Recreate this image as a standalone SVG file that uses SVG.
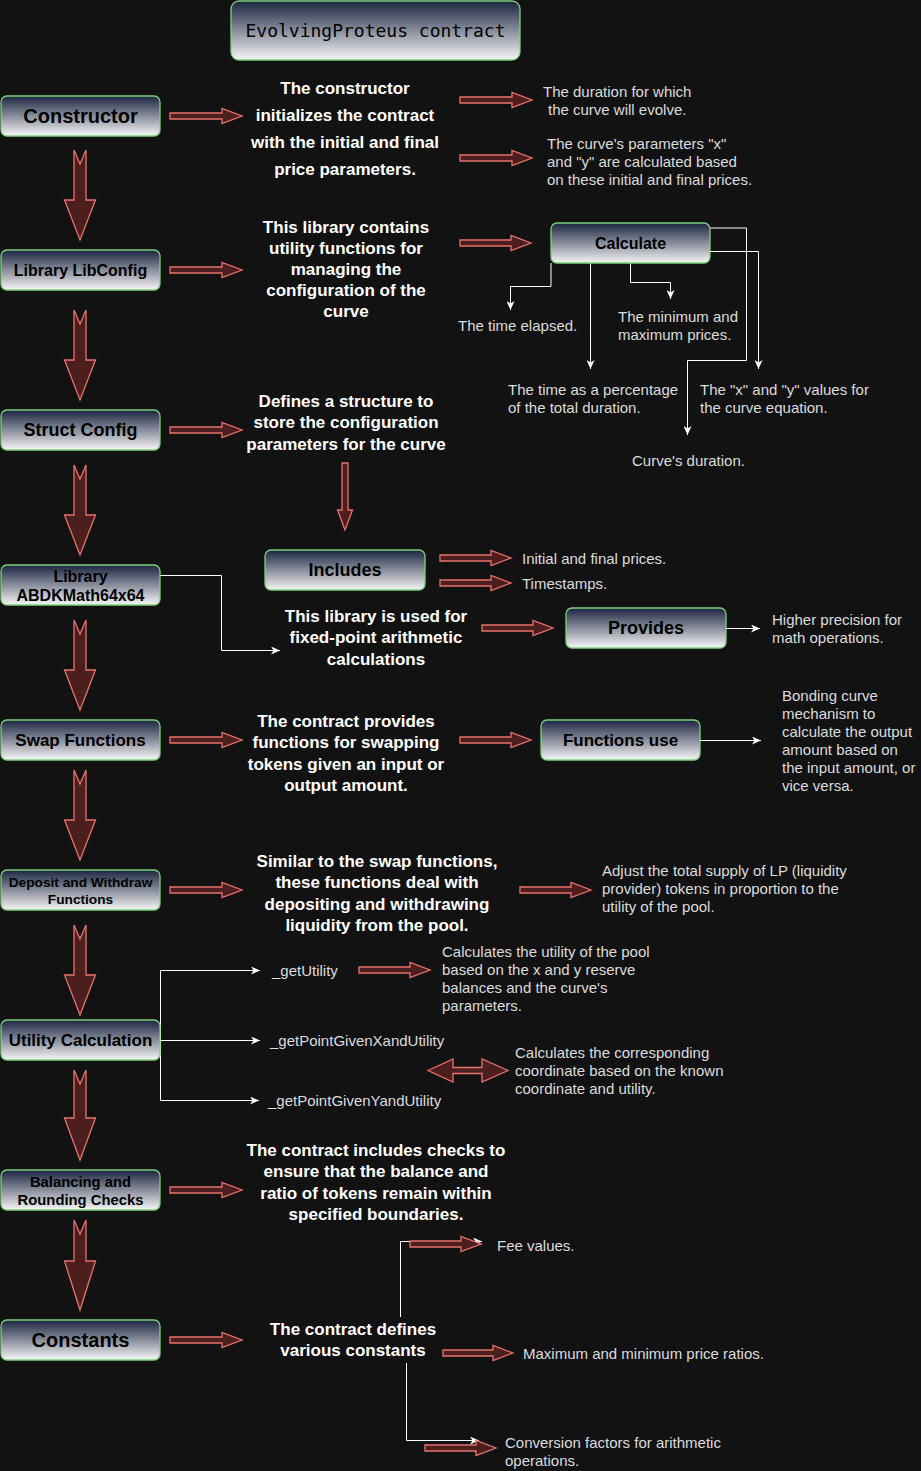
<svg xmlns="http://www.w3.org/2000/svg" width="921" height="1471" viewBox="0 0 921 1471">
<defs>
<linearGradient id="ng" x1="0" y1="0" x2="0" y2="1">
<stop offset="0" stop-color="#1b2540"/>
<stop offset="1" stop-color="#f6f6f6"/>
</linearGradient>
<marker id="ah" viewBox="0 0 10 8" refX="9" refY="4" markerWidth="10" markerHeight="8" markerUnits="userSpaceOnUse" orient="auto">
<path d="M0,0 L9,4 L0,8 L2.5,4 Z" fill="#ffffff"/>
</marker>
<style>
.bg{fill:#121212}
.nd{fill:url(#ng);stroke:#7dd07d;stroke-width:1.3}
.nt{font-family:"Liberation Sans",Arial,sans-serif;font-weight:bold;fill:#000;text-anchor:middle;dominant-baseline:central}
.mono{font-family:"DejaVu Sans Mono","Liberation Mono",monospace;font-size:18px;fill:#000;text-anchor:middle;dominant-baseline:central}
.bd{font-family:"Liberation Sans",Arial,sans-serif;font-weight:bold;font-size:17px;fill:#ffffff;text-anchor:middle;dominant-baseline:central}
.rg{font-family:"Liberation Sans",Arial,sans-serif;font-size:15px;fill:#dcdcdc;dominant-baseline:central}
.blk{fill:#4d1e1e;stroke:#e8736c;stroke-width:1.3;stroke-linejoin:miter}
.cn{fill:none;stroke:#ffffff;stroke-width:1}
</style>
</defs>
<rect class="bg" x="0" y="0" width="921" height="1471"/>

<g id="connectors">
<path class="cn" d="M551,263 V286.5 H510.5 V310" marker-end="url(#ah)"/>
<path class="cn" d="M590.5,263 V369" marker-end="url(#ah)"/>
<path class="cn" d="M630.5,263 V282.5 H670.5 V299" marker-end="url(#ah)"/>
<path class="cn" d="M710,251.5 H758.5 V369" marker-end="url(#ah)"/>
<path class="cn" d="M710,228 H746.5 V360.5 H687.5 V435" marker-end="url(#ah)"/>
<path class="cn" d="M160,575.5 H221.5 V650.5 H280" marker-end="url(#ah)"/>
<path class="cn" d="M726,628.5 H760" marker-end="url(#ah)"/>
<path class="cn" d="M700,740.5 H761" marker-end="url(#ah)"/>
<path class="cn" d="M160,1040.5 H260" marker-end="url(#ah)"/>
<path class="cn" d="M160.5,1040 V970.5 H260" marker-end="url(#ah)"/>
<path class="cn" d="M160.5,1040 V1100.5 H259" marker-end="url(#ah)"/>
<path class="cn" d="M400.5,1317 V1241.5 H482" marker-end="url(#ah)"/>
<path class="cn" d="M406.5,1363 V1440.5 H479" marker-end="url(#ah)"/>

<path class="blk" d="M74,150 L80,164 L86,150 V200 H95.5 L80,240 L64.5,200 H74 Z"/>
<path class="blk" d="M74,310 L80,324 L86,310 V360 H95.5 L80,400 L64.5,360 H74 Z"/>
<path class="blk" d="M74,465 L80,479 L86,465 V515 H95.5 L80,555 L64.5,515 H74 Z"/>
<path class="blk" d="M74,620 L80,634 L86,620 V670 H95.5 L80,710 L64.5,670 H74 Z"/>
<path class="blk" d="M74,770 L80,784 L86,770 V820 H95.5 L80,860 L64.5,820 H74 Z"/>
<path class="blk" d="M74,925 L80,939 L86,925 V975 H95.5 L80,1015 L64.5,975 H74 Z"/>
<path class="blk" d="M74,1070 L80,1084 L86,1070 V1118 H95.5 L80,1160 L64.5,1118 H74 Z"/>
<path class="blk" d="M74,1220 L80,1234 L86,1220 V1261 H95.5 L80,1310 L64.5,1261 H74 Z"/>

<path class="blk" d="M170,113 H222 V108.5 L242,116 L222,123.5 V119 H170 Z"/>
<path class="blk" d="M460,97 H512 V92.5 L532,100 L512,107.5 V103 H460 Z"/>
<path class="blk" d="M460,155 H512 V150.5 L532,158 L512,165.5 V161 H460 Z"/>
<path class="blk" d="M170,267 H222 V262.5 L242,270 L222,277.5 V273 H170 Z"/>
<path class="blk" d="M460,240 H511 V235.5 L531,243 L511,250.5 V246 H460 Z"/>
<path class="blk" d="M170,427 H222 V422.5 L242,430 L222,437.5 V433 H170 Z"/>
<path class="blk" d="M342,463 V510 H337.5 L345,530 L352.5,510 H348 V463 Z"/>
<path class="blk" d="M440,555 H491 V550.5 L511,558 L491,565.5 V561 H440 Z"/>
<path class="blk" d="M440,580 H491 V575.5 L511,583 L491,590.5 V586 H440 Z"/>
<path class="blk" d="M482,625 H533 V620.5 L553,628 L533,635.5 V631 H482 Z"/>
<path class="blk" d="M170,737 H222 V732.5 L242,740 L222,747.5 V743 H170 Z"/>
<path class="blk" d="M460,737 H511 V732.5 L531,740 L511,747.5 V743 H460 Z"/>
<path class="blk" d="M170,887 H222 V882.5 L242,890 L222,897.5 V893 H170 Z"/>
<path class="blk" d="M520,887 H571 V882.5 L591,890 L571,897.5 V893 H520 Z"/>
<path class="blk" d="M359,967 H410 V962.5 L430,970 L410,977.5 V973 H359 Z"/>
<path class="blk" d="M428,1070.5 L453,1059 V1067.5 H482 V1059 L508,1070.5 L482,1082 V1073.5 H453 V1082 Z"/>
<path class="blk" d="M170,1187 H222 V1182.5 L242,1190 L222,1197.5 V1193 H170 Z"/>
<path class="blk" d="M170,1337 H222 V1332.5 L242,1340 L222,1347.5 V1343 H170 Z"/>
<path class="blk" d="M410,1241 H461 V1236.5 L481,1244 L461,1251.5 V1247 H410 Z"/>
<path class="blk" d="M443,1350 H493 V1345.5 L513,1353 L493,1360.5 V1356 H443 Z"/>
<path class="blk" d="M425,1445 H476 V1440.5 L496,1448 L476,1455.5 V1451 H425 Z"/>
</g>

<g id="title">
<rect class="nd" x="231" y="1" width="289" height="59" rx="8"/>
<text class="mono" x="375.5" y="30">EvolvingProteus contract</text>
</g>

<g id="constructor">
<rect class="nd" x="1" y="96" width="159" height="40" rx="6"/>
<text class="nt" x="80.5" y="116" font-size="20">Constructor</text>
</g>
<g id="libconfig">
<rect class="nd" x="1" y="250" width="159" height="40" rx="6"/>
<text class="nt" x="80.5" y="270" font-size="16">Library LibConfig</text>
</g>
<g id="structconfig">
<rect class="nd" x="1" y="410" width="159" height="40" rx="6"/>
<text class="nt" x="80.5" y="430" font-size="18">Struct Config</text>
</g>
<g id="abdk">
<rect class="nd" x="1" y="565" width="159" height="40" rx="6"/>
<text class="nt" x="80.5" y="576" font-size="16">Library</text>
<text class="nt" x="80.5" y="595" font-size="16">ABDKMath64x64</text>
</g>
<g id="swap">
<rect class="nd" x="1" y="720" width="159" height="40" rx="6"/>
<text class="nt" x="80.5" y="740" font-size="17">Swap Functions</text>
</g>
<g id="deposit">
<rect class="nd" x="1" y="870" width="159" height="40" rx="6"/>
<text class="nt" x="80.5" y="882" font-size="13.7">Deposit and Withdraw</text>
<text class="nt" x="80.5" y="899" font-size="13.7">Functions</text>
</g>
<g id="utility">
<rect class="nd" x="1" y="1020" width="159" height="40" rx="6"/>
<text class="nt" x="80.5" y="1040" font-size="17">Utility Calculation</text>
</g>
<g id="balancing">
<rect class="nd" x="1" y="1170" width="159" height="40" rx="6"/>
<text class="nt" x="80.5" y="1182" font-size="14.8">Balancing and</text>
<text class="nt" x="80.5" y="1200" font-size="14.8">Rounding Checks</text>
</g>
<g id="constants">
<rect class="nd" x="1" y="1320" width="159" height="40" rx="6"/>
<text class="nt" x="80.5" y="1340" font-size="20">Constants</text>
</g>
<g id="calculate">
<rect class="nd" x="551" y="223" width="159" height="40" rx="6"/>
<text class="nt" x="630.5" y="243" font-size="16">Calculate</text>
</g>
<g id="includes">
<rect class="nd" x="265" y="550" width="160" height="40" rx="6"/>
<text class="nt" x="345" y="570" font-size="18">Includes</text>
</g>
<g id="provides">
<rect class="nd" x="566" y="608" width="160" height="40" rx="6"/>
<text class="nt" x="646" y="628" font-size="18">Provides</text>
</g>
<g id="functionsuse">
<rect class="nd" x="541" y="720" width="159" height="40" rx="6"/>
<text class="nt" x="620.5" y="740" font-size="17">Functions use</text>
</g>

<g id="desc-constructor">
<text class="bd" x="345" y="88">The constructor</text>
<text class="bd" x="345" y="115">initializes the contract</text>
<text class="bd" x="345" y="142">with the initial and final</text>
<text class="bd" x="345" y="169">price parameters.</text>
</g>
<g id="desc-libconfig">
<text class="bd" x="346" y="227">This library contains</text>
<text class="bd" x="346" y="248">utility functions for</text>
<text class="bd" x="346" y="269">managing the</text>
<text class="bd" x="346" y="290">configuration of the</text>
<text class="bd" x="346" y="311">curve</text>
</g>
<g id="desc-struct">
<text class="bd" x="346" y="401">Defines a structure to</text>
<text class="bd" x="346" y="422">store the configuration</text>
<text class="bd" x="346" y="444">parameters for the curve</text>
</g>
<g id="desc-abdk">
<text class="bd" x="376" y="616">This library is used for</text>
<text class="bd" x="376" y="637">fixed-point arithmetic</text>
<text class="bd" x="376" y="659">calculations</text>
</g>
<g id="desc-swap">
<text class="bd" x="346" y="721">The contract provides</text>
<text class="bd" x="346" y="742">functions for swapping</text>
<text class="bd" x="346" y="764">tokens given an input or</text>
<text class="bd" x="346" y="785">output amount.</text>
</g>
<g id="desc-deposit">
<text class="bd" x="377" y="861">Similar to the swap functions,</text>
<text class="bd" x="377" y="882">these functions deal with</text>
<text class="bd" x="377" y="904">depositing and withdrawing</text>
<text class="bd" x="377" y="925">liquidity from the pool.</text>
</g>
<g id="desc-balancing">
<text class="bd" x="376" y="1150">The contract includes checks to</text>
<text class="bd" x="376" y="1171">ensure that the balance and</text>
<text class="bd" x="376" y="1193">ratio of tokens remain within</text>
<text class="bd" x="376" y="1214">specified boundaries.</text>
</g>
<g id="desc-constants">
<text class="bd" x="353" y="1329">The contract defines</text>
<text class="bd" x="353" y="1350">various constants</text>
</g>

<g id="notes">
<text class="rg" x="543" y="91">The duration for which</text>
<text class="rg" x="548" y="109">the curve will evolve.</text>
<text class="rg" x="547" y="143">The curve's parameters "x"</text>
<text class="rg" x="547" y="161">and "y" are calculated based</text>
<text class="rg" x="547" y="179">on these initial and final prices.</text>
<text class="rg" x="458" y="325">The time elapsed.</text>
<text class="rg" x="618" y="316">The minimum and</text>
<text class="rg" x="618" y="334">maximum prices.</text>
<text class="rg" x="508" y="389">The time as a percentage</text>
<text class="rg" x="508" y="407">of the total duration.</text>
<text class="rg" x="700" y="389">The "x" and "y" values for</text>
<text class="rg" x="700" y="407">the curve equation.</text>
<text class="rg" x="632" y="460">Curve's duration.</text>
<text class="rg" x="522" y="558">Initial and final prices.</text>
<text class="rg" x="522" y="583">Timestamps.</text>
<text class="rg" x="772" y="619">Higher precision for</text>
<text class="rg" x="772" y="637">math operations.</text>
<text class="rg" x="782" y="695">Bonding curve</text>
<text class="rg" x="782" y="713">mechanism to</text>
<text class="rg" x="782" y="731">calculate the output</text>
<text class="rg" x="782" y="749">amount based on</text>
<text class="rg" x="782" y="767">the input amount, or</text>
<text class="rg" x="782" y="785">vice versa.</text>
<text class="rg" x="602" y="870">Adjust the total supply of LP (liquidity</text>
<text class="rg" x="602" y="888">provider) tokens in proportion to the</text>
<text class="rg" x="602" y="906">utility of the pool.</text>
<text class="rg" x="272" y="970">_getUtility</text>
<text class="rg" x="270" y="1040">_getPointGivenXandUtility</text>
<text class="rg" x="268" y="1100">_getPointGivenYandUtility</text>
<text class="rg" x="442" y="951">Calculates the utility of the pool</text>
<text class="rg" x="442" y="969">based on the x and y reserve</text>
<text class="rg" x="442" y="987">balances and the curve's</text>
<text class="rg" x="442" y="1005">parameters.</text>
<text class="rg" x="515" y="1052">Calculates the corresponding</text>
<text class="rg" x="515" y="1070">coordinate based on the known</text>
<text class="rg" x="515" y="1088">coordinate and utility.</text>
<text class="rg" x="497" y="1245">Fee values.</text>
<text class="rg" x="523" y="1353">Maximum and minimum price ratios.</text>
<text class="rg" x="505" y="1442">Conversion factors for arithmetic</text>
<text class="rg" x="505" y="1460">operations.</text>
</g>
</svg>
